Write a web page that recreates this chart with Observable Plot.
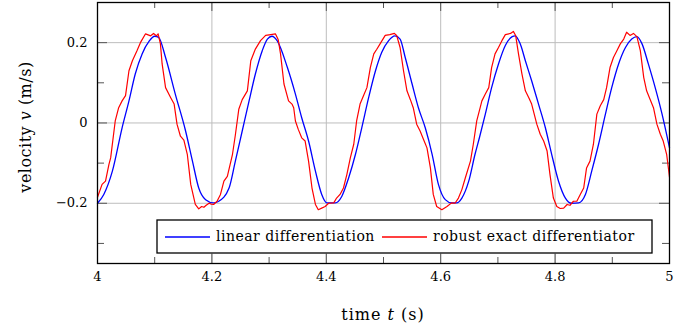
<!DOCTYPE html>
<html><head><meta charset="utf-8">
<script src="https://cdn.jsdelivr.net/npm/d3@7"></script>
<script src="https://cdn.jsdelivr.net/npm/@observablehq/plot@0.6"></script>
<style>
body{margin:0;background:#fff;}
#chart{width:694px;height:325px;}
</style></head><body><div id="chart"></div>
<script>
const tBlue=[4.000,4.011,4.026,4.043,4.055,4.066,4.078,4.090,4.100,4.107,4.119,4.136,4.154,4.166,4.177,4.189,4.203,4.212,4.230,4.241,4.253,4.265,4.276,4.288,4.297,4.305,4.314,4.332,4.346,4.357,4.369,4.381,4.392,4.401,4.416,4.427,4.439,4.451,4.462,4.474,4.486,4.497,4.509,4.520,4.529,4.538,4.550,4.561,4.573,4.585,4.596,4.608,4.619,4.628,4.637,4.649,4.660,4.668,4.678,4.689,4.701,4.713,4.725,4.730,4.739,4.748,4.759,4.771,4.783,4.794,4.806,4.818,4.829,4.841,4.853,4.864,4.876,4.888,4.899,4.911,4.923,4.934,4.943,4.952,4.963,4.975,4.987,5.000];
const vBlue=[-0.200,-0.178,-0.120,-0.012,0.055,0.122,0.172,0.203,0.216,0.213,0.163,0.072,-0.020,-0.095,-0.162,-0.191,-0.199,-0.195,-0.162,-0.095,-0.020,0.055,0.122,0.180,0.209,0.216,0.205,0.138,0.072,0.013,-0.045,-0.120,-0.178,-0.199,-0.199,-0.183,-0.137,-0.078,-0.012,0.063,0.130,0.176,0.205,0.217,0.209,0.163,0.097,0.038,-0.012,-0.078,-0.153,-0.191,-0.199,-0.199,-0.187,-0.145,-0.078,-0.035,0.022,0.088,0.147,0.193,0.215,0.217,0.197,0.155,0.105,0.047,-0.012,-0.078,-0.145,-0.187,-0.200,-0.199,-0.178,-0.120,-0.053,0.022,0.088,0.147,0.188,0.209,0.215,0.197,0.147,0.088,0.022,-0.062];
const tRed=[4.000,4.008,4.014,4.020,4.023,4.031,4.037,4.043,4.049,4.055,4.061,4.069,4.075,4.084,4.093,4.098,4.103,4.106,4.110,4.113,4.119,4.128,4.134,4.139,4.145,4.151,4.157,4.163,4.171,4.177,4.182,4.186,4.190,4.195,4.199,4.203,4.209,4.215,4.221,4.227,4.236,4.241,4.247,4.253,4.262,4.268,4.276,4.285,4.294,4.303,4.311,4.316,4.320,4.326,4.334,4.340,4.343,4.346,4.351,4.357,4.363,4.369,4.375,4.381,4.386,4.392,4.398,4.404,4.413,4.418,4.424,4.430,4.436,4.442,4.448,4.453,4.459,4.465,4.471,4.477,4.483,4.488,4.494,4.503,4.511,4.519,4.523,4.529,4.535,4.541,4.547,4.552,4.558,4.564,4.570,4.576,4.582,4.587,4.593,4.602,4.611,4.619,4.625,4.631,4.637,4.643,4.652,4.657,4.663,4.669,4.672,4.678,4.684,4.689,4.695,4.701,4.707,4.713,4.722,4.727,4.731,4.736,4.742,4.748,4.754,4.759,4.768,4.774,4.780,4.786,4.791,4.797,4.803,4.809,4.815,4.821,4.826,4.832,4.838,4.844,4.850,4.855,4.861,4.867,4.873,4.879,4.885,4.890,4.896,4.902,4.908,4.914,4.920,4.925,4.931,4.937,4.943,4.949,4.955,4.960,4.966,4.972,4.978,4.984,4.989,4.995,5.000];
const vRed=[-0.185,-0.153,-0.145,-0.103,-0.087,0.005,0.038,0.055,0.068,0.130,0.155,0.180,0.200,0.222,0.217,0.223,0.217,0.222,0.197,0.147,0.088,0.063,0.047,-0.003,-0.033,-0.043,-0.078,-0.153,-0.203,-0.214,-0.208,-0.210,-0.205,-0.200,-0.202,-0.203,-0.195,-0.178,-0.145,-0.133,-0.078,-0.030,0.034,0.058,0.080,0.155,0.184,0.205,0.218,0.220,0.222,0.207,0.172,0.097,0.055,0.047,0.038,0.005,-0.016,-0.037,-0.045,-0.095,-0.162,-0.203,-0.216,-0.212,-0.208,-0.200,-0.199,-0.187,-0.178,-0.162,-0.128,-0.087,-0.053,0.005,0.047,0.068,0.088,0.138,0.172,0.183,0.197,0.218,0.220,0.223,0.218,0.188,0.130,0.080,0.058,0.038,-0.003,-0.020,-0.041,-0.062,-0.112,-0.178,-0.208,-0.216,-0.208,-0.199,-0.200,-0.187,-0.166,-0.137,-0.095,-0.053,0.005,0.038,0.055,0.072,0.088,0.138,0.172,0.188,0.205,0.220,0.223,0.228,0.218,0.172,0.122,0.080,0.063,0.047,-0.003,-0.028,-0.045,-0.070,-0.128,-0.187,-0.208,-0.213,-0.212,-0.203,-0.205,-0.195,-0.195,-0.178,-0.162,-0.112,-0.095,-0.053,0.022,0.043,0.058,0.088,0.138,0.163,0.180,0.197,0.209,0.226,0.218,0.223,0.215,0.180,0.113,0.080,0.059,0.038,-0.003,-0.028,-0.045,-0.078,-0.135];

const xMajor=[4,4.2,4.4,4.6,4.8,5];
const xMinor=[4.1,4.3,4.5,4.7,4.9];
const xGrid=[4.2,4.4,4.6,4.8];
const yMajor=[-0.2,0,0.2];
const yMinor=[-0.3,-0.1,0.1];
const seriesNames=["linear differentiation","robust exact differentiator"];
const seriesColors=["#0000ff","#ff0000"];

const blue=tBlue.map((t,i)=>({t,v:vBlue[i]}));
const red=tRed.map((t,i)=>({t,v:vRed[i]}));

const W=694,H=325,mL=97,mR=25,mT=2,mB=62;
const pw=W-mL-mR, ph=H-mT-mB;
const font="DejaVu Serif";
const tickCol="#555";
const fmtY=d=>d===0?"0":d3.format(".1f")(d);

const svg=Plot.plot({
  width:W,height:H,marginLeft:mL,marginRight:mR,marginTop:mT,marginBottom:mB,
  style:{fontFamily:font,fontSize:"13px",background:"#fff",color:"#000"},
  x:{domain:[4,5]},
  y:{domain:[-0.35,0.3]},
  marks:[
    Plot.gridX(xGrid,{stroke:"#bdbdbd",strokeOpacity:1}),
    Plot.gridY(yMajor,{stroke:"#bdbdbd",strokeOpacity:1}),
    Plot.tickX(xMajor,{x:d=>d,insetTop:ph-9,stroke:tickCol}),
    Plot.tickX(xMajor,{x:d=>d,insetBottom:ph-9,stroke:tickCol}),
    Plot.tickX(xMinor,{x:d=>d,insetTop:ph-6,stroke:tickCol}),
    Plot.tickX(xMinor,{x:d=>d,insetBottom:ph-6,stroke:tickCol}),
    Plot.tickY(yMajor,{y:d=>d,insetRight:pw-10,stroke:tickCol}),
    Plot.tickY(yMajor,{y:d=>d,insetLeft:pw-10,stroke:tickCol}),
    Plot.tickY(yMinor,{y:d=>d,insetRight:pw-7,stroke:tickCol}),
    Plot.tickY(yMinor,{y:d=>d,insetLeft:pw-7,stroke:tickCol}),
    Plot.axisX(xMajor,{anchor:"bottom",tickSize:0,tickPadding:8,tickFormat:d=>String(d),label:null}),
    Plot.axisY(yMajor,{anchor:"left",tickSize:0,tickPadding:10,tickFormat:fmtY,label:null}),
    Plot.line(blue,{x:"t",y:"v",stroke:seriesColors[0],strokeWidth:1.3,curve:"monotone-x"}),
    Plot.line(red,{x:"t",y:"v",stroke:seriesColors[1],strokeWidth:1.2}),
    Plot.frame({stroke:"#000",strokeWidth:1.3})
  ]
});
document.getElementById("chart").appendChild(svg);

const s=d3.select(svg);
// x axis label
const xl=s.append("text").attr("x",mL+pw/2).attr("y",320).attr("text-anchor","middle")
  .attr("font-family",font).attr("font-size",16).attr("fill","#000").attr("letter-spacing","1px");
xl.append("tspan").text("time ");
xl.append("tspan").attr("font-style","italic").text("t");
xl.append("tspan").text(" (s)");
// y axis label
const yl=s.append("text").attr("transform","translate(25,127) rotate(-90)").attr("text-anchor","middle")
  .attr("dominant-baseline","central")
  .attr("font-family",font).attr("font-size",16).attr("fill","#000").attr("letter-spacing","0.5px");
yl.append("tspan").text("velocity ");
yl.append("tspan").attr("font-style","italic").text("v");
yl.append("tspan").text(" (m/s)");
// legend
const lg=s.append("g");
lg.append("rect").attr("x",157).attr("y",220).attr("width",495).attr("height",33)
  .attr("fill","#fff").attr("stroke","#000").attr("stroke-width",1.3);
const legX=[[165,216],[382,433]];
seriesNames.forEach((n,i)=>{
  lg.append("line").attr("x1",legX[i][0]).attr("x2",legX[i][0]+45).attr("y1",237).attr("y2",237)
    .attr("stroke",seriesColors[i]).attr("stroke-width",1.3);
  lg.append("text").attr("x",legX[i][1]).attr("y",241).attr("text-anchor","start")
    .attr("font-family",font).attr("font-size",14)
    .attr("letter-spacing","0.5px").attr("fill","#000").text(n);
});
</script></body></html>
